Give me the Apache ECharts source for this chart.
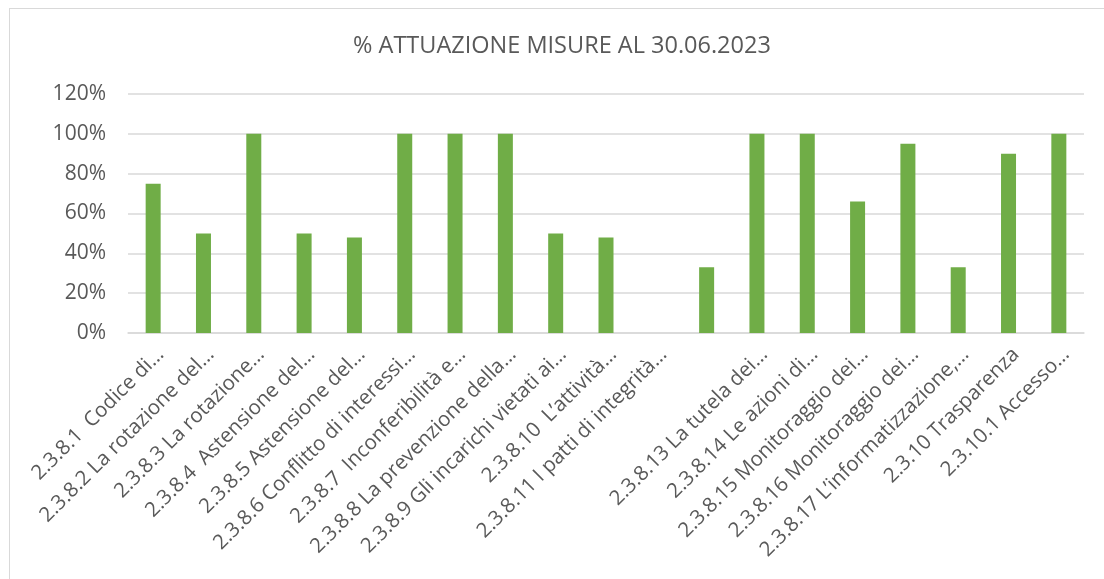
<!DOCTYPE html>
<html>
<head>
<meta charset="utf-8">
<script src="https://cdn.jsdelivr.net/npm/echarts@6/dist/echarts.min.js"></script>
<style>
    html, body { margin: 0; padding: 0; background: #fff; }
    #frame { position: absolute; left: 9px; top: 8px; width: 1120px; height: 600px; border: 1px solid #D9D9D9; }
    #chart { position: absolute; left: 0; top: 0; width: 1104px; height: 579px; }
</style>
</head>
<body>
<div id="frame"></div>
<div id="chart"></div>
<script>
// categorie (etichette come appaiono nel grafico)
const categories = [
    '2.3.8.1  Codice di…',
    '2.3.8.2 La rotazione del…',
    '2.3.8.3 La rotazione…',
    '2.3.8.4  Astensione del…',
    '2.3.8.5 Astensione del…',
    '2.3.8.6 Conflitto di interessi…',
    '2.3.8.7  Inconferibilità e…',
    '2.3.8.8 La prevenzione della…',
    '2.3.8.9 Gli incarichi vietati ai…',
    '2.3.8.10  L’attività…',
    '2.3.8.11 I patti di integrità…',
    '',
    '2.3.8.13 La tutela dei…',
    '2.3.8.14 Le azioni di…',
    '2.3.8.15 Monitoraggio dei…',
    '2.3.8.16 Monitoraggio dei…',
    '2.3.8.17 L’informatizzazione,…',
    '2.3.10 Trasparenza',
    '2.3.10.1 Accesso…'
];

// % attuazione
const attuazione = [0.75, 0.5, 1, 0.5, 0.48, 1, 1, 1, 0.5, 0.48, 0, 0.33, 1, 1, 0.66, 0.95, 0.33, 0.9, 1];

const yTicks = [0, 0.2, 0.4, 0.6, 0.8, 1, 1.2];

const textColor = '#595959';
const font = '"Open Sans", sans-serif';

const chart = echarts.init(document.getElementById('chart'));

const options = {
    animation: false,
    title: {
        text: '% ATTUAZIONE MISURE AL 30.06.2023',
        left: 348,
        top: 29,
        textStyle: {
            color: textColor,
            fontFamily: font,
            fontSize: 23.5,
            fontWeight: 'normal'
        }
    },
    grid: {
        left: 128,
        right: 20,
        top: 94,
        bottom: 246
    },
    xAxis: {
        type: 'category',
        data: categories,
        axisTick: { show: false },
        axisLine: {
            lineStyle: { color: '#D9D9D9', width: 1.5 }
        },
        axisLabel: {
            interval: 0,
            rotate: 45,
            margin: 11,
            align: 'right',
            verticalAlign: 'top',
            color: textColor,
            fontFamily: font,
            fontSize: 20.5
        }
    },
    yAxis: {
        type: 'value',
        min: yTicks[0],
        max: yTicks[yTicks.length - 1],
        interval: 0.2,
        axisLine: { show: false },
        axisTick: { show: false },
        axisLabel: {
            margin: 22,
            color: textColor,
            fontFamily: font,
            fontSize: 21,
            formatter: (v) => Math.round(v * 100) + '%'
        },
        splitLine: {
            lineStyle: { color: '#D9D9D9', width: 1.5 }
        }
    },
    series: [
        {
            type: 'bar',
            data: attuazione,
            barWidth: 15,
            itemStyle: {
                color: '#70AD47'
            }
        }
    ]
};

chart.setOption(options);
</script>
</body>
</html>
